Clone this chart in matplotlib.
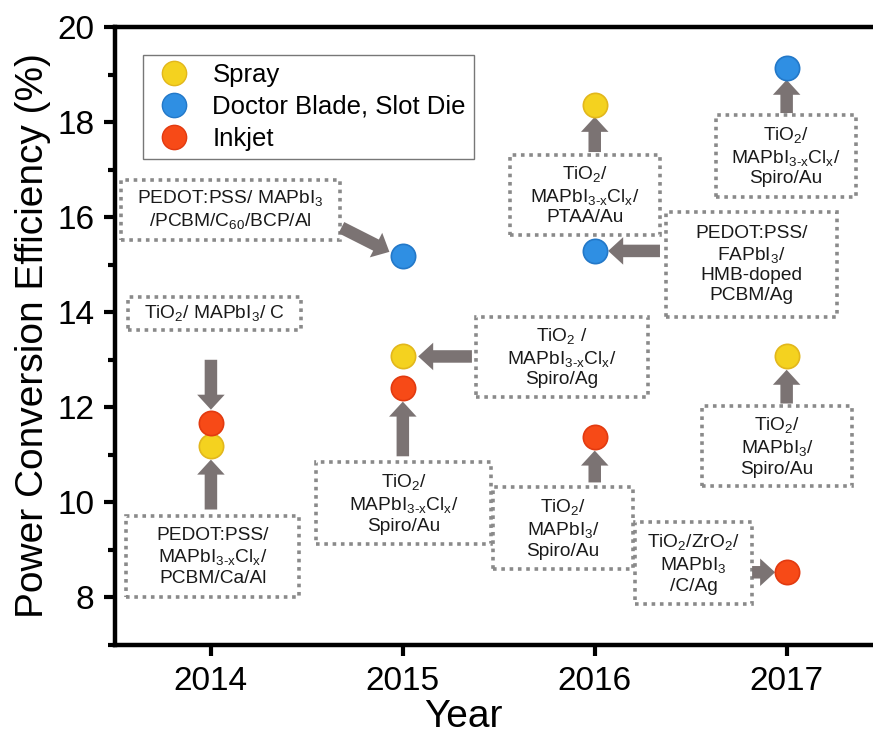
import matplotlib.pyplot as plt
from matplotlib.patches import Rectangle
from matplotlib.lines import Line2D

plt.rcParams['font.family'] = ['Liberation Sans', 'DejaVu Sans']
plt.rcParams['mathtext.fontset'] = 'custom'
plt.rcParams['mathtext.rm'] = 'Liberation Sans'
plt.rcParams['mathtext.it'] = 'Liberation Sans'
plt.rcParams['mathtext.default'] = 'regular'

# data (year, PCE %)
spray_year = [2014, 2015, 2016, 2017]
spray_pce = [11.18, 13.07, 18.36, 13.07]
blade_year = [2015, 2016, 2017]
blade_pce = [15.19, 15.29, 19.14]
inkjet_year = [2014, 2015, 2016, 2017]
inkjet_pce = [11.66, 12.40, 11.37, 8.53]

years = [2014, 2015, 2016, 2017]

# device structure labels: text, box (x0, x1, y0, y1), arrow start, arrow end
labels = [
    ("PEDOT:PSS/ MAPbI$_3$\n/PCBM/C$_{60}$/BCP/Al", (2013.53, 2014.67, 15.53, 16.79), (2014.68, 15.78), (2014.93, 15.27)),
    ("TiO$_2$/ MAPbI$_3$/ C", (2013.57, 2014.47, 13.63, 14.33), (2014.0, 13.0), (2014.0, 11.95)),
    ("PEDOT:PSS/\nMAPbI$_{3\u2010x}$Cl$_x$/\nPCBM/Ca/Al", (2013.56, 2014.46, 8.0, 9.71), (2014.0, 9.85), (2014.0, 10.9)),
    ("TiO$_2$/\nMAPbI$_{3\u2010x}$Cl$_x$/\nSpiro/Au", (2014.55, 2015.46, 9.12, 10.84), (2015.0, 10.97), (2015.0, 12.12)),
    ("TiO$_2$ /\nMAPbI$_{3\u2010x}$Cl$_x$/\nSpiro/Ag", (2015.38, 2016.28, 12.21, 13.91), (2015.36, 13.07), (2015.08, 13.07)),
    ("TiO$_2$/\nMAPbI$_{3\u2010x}$Cl$_x$/\nPTAA/Au", (2015.56, 2016.34, 15.63, 17.31), (2016.0, 17.37), (2016.0, 18.11)),
    ("PEDOT:PSS/\nFAPbI$_3$/\nHMB-doped\nPCBM/Ag", (2016.37, 2017.26, 13.91, 16.11), (2016.34, 15.29), (2016.07, 15.29)),
    ("TiO$_2$/\nMAPbI$_{3\u2010x}$Cl$_x$/\nSpiro/Au", (2016.63, 2017.36, 16.43, 18.15), (2017.0, 18.19), (2017.0, 18.89)),
    ("TiO$_2$/\nMAPbI$_3$/\nSpiro/Au", (2015.47, 2016.2, 8.59, 10.32), (2016.0, 10.42), (2016.0, 11.09)),
    ("TiO$_2$/\nMAPbI$_3$/\nSpiro/Au", (2016.56, 2017.34, 10.34, 12.02), (2017.0, 12.08), (2017.0, 12.79)),
    ("TiO$_2$/ZrO$_2$/\nMAPbI$_3$\n/C/Ag", (2016.21, 2016.82, 7.86, 9.58), (2016.82, 8.53), (2016.94, 8.53)),
]

fig = plt.figure(figsize=(8.73, 7.38), dpi=100)
ax = fig.add_axes([0.1317, 0.126, 0.8683, 0.8374])

ax.set_xlim(2013.5, 2017.45)
ax.set_ylim(7, 20)

# dotted boxes + arrows
for text, (x0, x1, y0, y1), start, end in labels:
    ax.add_patch(Rectangle((x0, y0), x1 - x0, y1 - y0, fill=True, fc='white',
                           ec='#8a8a8a', lw=2.6, ls=(0, (1, 1.3)), zorder=2))
    ax.text((x0 + x1) / 2, (y0 + y1) / 2, text, ha='center', va='center',
            fontsize=13.8, color='#1a1a1a', linespacing=1.2, zorder=3)
    ax.annotate('', xy=end, xytext=start,
                arrowprops=dict(arrowstyle='simple,head_length=0.6,head_width=1.1,tail_width=0.5',
                                fc='#7b7373', ec='none', mutation_scale=18,
                                shrinkA=0, shrinkB=0), zorder=3)

ms = 17.5
ax.plot(spray_year, spray_pce, 'o', ls='none', ms=ms, mfc='#f4d21f', mec='#e2b71c', mew=1.2, zorder=4)
ax.plot(blade_year, blade_pce, 'o', ls='none', ms=ms, mfc='#2f8fe3', mec='#2378c8', mew=1.2, zorder=4)
ax.plot(inkjet_year, inkjet_pce, 'o', ls='none', ms=ms, mfc='#f74a17', mec='#e23a10', mew=1.2, zorder=4)

handles = [
    Line2D([], [], marker='o', ls='none', ms=ms, mfc='#f4d21f', mec='#e2b71c'),
    Line2D([], [], marker='o', ls='none', ms=ms, mfc='#2f8fe3', mec='#2378c8'),
    Line2D([], [], marker='o', ls='none', ms=ms, mfc='#f74a17', mec='#e23a10'),
]
leg = ax.legend(handles, ['Spray', 'Doctor Blade, Slot Die', 'Inkjet'],
                loc='upper left', bbox_to_anchor=(0.037, 0.955), borderaxespad=0,
                fontsize=18.5, frameon=True, fancybox=False, handletextpad=0.6,
                labelspacing=0.32, borderpad=0.3, handlelength=1.8)
leg.get_frame().set_edgecolor('#555555')
leg.get_frame().set_linewidth(1.0)

ax.set_xticks(years)
ax.set_xticklabels([str(y) for y in years])
ax.set_yticks(range(8, 21, 2))
ax.set_yticks(range(7, 21, 2), minor=True)
ax.tick_params(axis='both', which='major', direction='out', length=8, width=3, labelsize=24, pad=7)
ax.tick_params(axis='y', which='minor', direction='out', length=5, width=3)

for side in ['left', 'bottom', 'top']:
    ax.spines[side].set_linewidth(3.2)
ax.spines['right'].set_visible(False)

ax.set_xlabel('Year', fontsize=28, labelpad=4)
ax.xaxis.set_label_coords(0.459, -0.088)
ax.set_ylabel('Power Conversion Efficiency (%)', fontsize=28, labelpad=4)

fig.savefig('out.png', dpi=100)
